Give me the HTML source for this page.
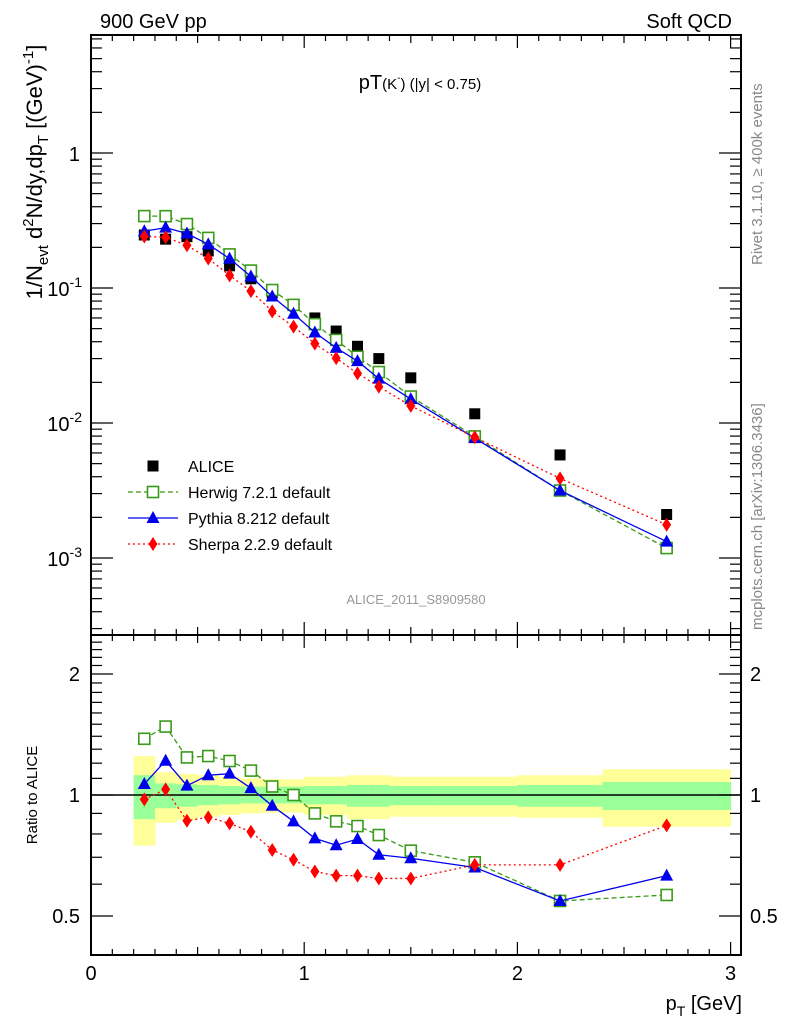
<!DOCTYPE html>
<html><head><meta charset="utf-8">
<style>
html,body{margin:0;padding:0;background:#fff;}
svg{display:block;font-family:"Liberation Sans",sans-serif;}
</style></head>
<body>
<svg id="chart" width="786" height="1024" viewBox="0 0 786 1024" xmlns="http://www.w3.org/2000/svg">
<text x="100" y="28" font-size="20">900 GeV pp</text>
<text x="732" y="28" font-size="20" text-anchor="end">Soft QCD</text>
<text x="420" y="89" font-size="20" text-anchor="middle">pT<tspan font-size="15">(K</tspan><tspan font-size="10" dy="-8">-</tspan><tspan font-size="15" dy="8">) (|y| &lt; 0.75)</tspan></text>
<text transform="translate(762,265) rotate(-90)" font-size="15" fill="#888">Rivet 3.1.10, ≥ 400k events</text>
<text transform="translate(762,630) rotate(-90)" font-size="15" fill="#888">mcplots.cern.ch [arXiv:1306.3436]</text>
<text x="416" y="604" font-size="13" fill="#999" text-anchor="middle">ALICE_2011_S8909580</text>
<text transform="translate(42,172) rotate(-90)" font-size="22" text-anchor="middle">1/N<tspan font-size="15" dy="6">evt</tspan><tspan dy="-6"> d</tspan><tspan font-size="15" dy="-9">2</tspan><tspan dy="9">N/dy,dp</tspan><tspan font-size="15" dy="6">T</tspan><tspan dy="-6"> [(GeV)</tspan><tspan font-size="15" dy="-9">-1</tspan><tspan dy="9">]</tspan></text>
<text transform="translate(37,795) rotate(-90)" font-size="15" text-anchor="middle">Ratio to ALICE</text>
<text x="742" y="1010" font-size="20" text-anchor="end">p<tspan font-size="14" dy="6">T</tspan><tspan dy="-6"> [GeV]</tspan></text>
<g id="g"></g>
</svg>
<script>
const xs=[0.25,0.35,0.45,0.55,0.65,0.75,0.85,0.95,1.05,1.15,1.25,1.35,1.5,1.8,2.2,2.7];
const binLo=[0.2,0.3,0.4,0.5,0.6,0.7,0.8,0.9,1.0,1.1,1.2,1.3,1.4,1.6,2.0,2.4];
const binHi=[0.3,0.4,0.5,0.6,0.7,0.8,0.9,1.0,1.1,1.2,1.3,1.4,1.6,2.0,2.4,3.0];
const alice=[0.247,0.23,0.24,0.188,0.146,0.117,0.092,0.075,0.06,0.048,0.037,0.03,0.0216,0.0117,0.0058,0.0021];
const herwigR=[1.38,1.48,1.24,1.25,1.215,1.15,1.05,1.0,0.90,0.86,0.837,0.795,0.727,0.68,0.545,0.564];
const pythiaR=[1.065,1.217,1.055,1.12,1.13,1.04,0.94,0.86,0.78,0.75,0.777,0.71,0.696,0.66,0.545,0.63];
const sherpaR=[0.975,1.033,0.863,0.88,0.85,0.81,0.73,0.69,0.645,0.63,0.63,0.62,0.62,0.67,0.67,0.84];
const yelUp=[1.25,1.14,1.128,1.12,1.11,1.10,1.094,1.094,1.11,1.11,1.12,1.12,1.11,1.11,1.12,1.159];
const yelDn=[0.748,0.853,0.867,0.883,0.892,0.90,0.904,0.904,0.892,0.892,0.871,0.871,0.883,0.883,0.878,0.834];
const grnUp=[1.12,1.069,1.063,1.059,1.053,1.049,1.049,1.049,1.053,1.053,1.059,1.059,1.053,1.053,1.059,1.077];
const grnDn=[0.871,0.927,0.935,0.943,0.948,0.953,0.953,0.953,0.948,0.948,0.935,0.935,0.943,0.943,0.935,0.918];
const xTicks=[0,1,2,3];
const mainTicks=[1,0.1,0.01,0.001];
const mainTickLabels=["1","10","10","10"];
const mainTickExp=["","-1","-2","-3"];
const ratioTicks=[0.5,1,2];

const NS="http://www.w3.org/2000/svg";
const g=document.getElementById('g');
const X=v=>91+213.2*v;
const Ym=v=>153-135*Math.log10(v);
const Yr=v=>795-121*Math.log2(v);
const L=91,R=741,T1=35,B1=635,T2=635,B2=955;
function el(tag,attrs,parent){const e=document.createElementNS(NS,tag);for(const k in attrs)e.setAttribute(k,attrs[k]);(parent||g).appendChild(e);return e;}

const bands=el('g',{});


for(let i=0;i<binLo.length;i++){
  const y=el('rect',{x:X(binLo[i]),y:Yr(yelUp[i]),width:X(binHi[i])-X(binLo[i])+0.5,height:Yr(yelDn[i])-Yr(yelUp[i]),fill:'#ffff99'},bands);
  
  
  const gr=el('rect',{x:X(binLo[i]),y:Yr(grnUp[i]),width:X(binHi[i])-X(binLo[i])+0.5,height:Yr(grnDn[i])-Yr(grnUp[i]),fill:'#99ff99'},bands);
  
  
}
const one=el('line',{x1:L,x2:R,y1:Yr(1),y2:Yr(1),stroke:'#000','stroke-width':1.5});



const f1=el('rect',{x:L,y:T1,width:R-L,height:B1-T1,fill:'none',stroke:'#000','stroke-width':2});


const f2=el('rect',{x:L,y:T2,width:R-L,height:B2-T2,fill:'none',stroke:'#000','stroke-width':2});



const tk=el('g',{stroke:'#000','stroke-width':1.2});


for(let i=0;i<=30;i++){
  const v=i/10,x=X(v);if(x>R)break;
  const len=i%10==0?13:(i%5==0?8:6);
  [[T1,1],[B1,-1],[T2,1],[B2,-1]].forEach(([y0,d])=>el('line',{x1:x,x2:x,y1:y0,y2:y0+d*len},tk));
}
xTicks.forEach(v=>{const t=el('text',{x:X(v),y:980,'font-size':20,'text-anchor':'middle'});t.textContent=v;});
for(let e=-4;e<=0;e++){for(let m=1;m<=9;m++){const v=m*Math.pow(10,e);const y=Ym(v);if(y<T1||y>B1)continue;const len=m==1?22:11;el('line',{x1:L,x2:L+len,y1:y,y2:y},tk);el('line',{x1:R,x2:R-len,y1:y,y2:y},tk);}}
mainTicks.forEach((v,i)=>{const t=el('text',{x:mainTickExp[i]?62:80,y:Ym(v)+8,'font-size':20,'text-anchor':'end'});t.textContent=mainTickLabels[i];if(mainTickExp[i]){const s=el('tspan',{'font-size':14,dy:-9},t);s.textContent=mainTickExp[i];t.setAttribute('x',82);}});
const rt=[0.4,0.5,0.6,0.7,0.8,0.9,1.0,1.1,1.2,1.3,1.4,1.5,1.6,1.7,1.8,1.9,2.0,2.1,2.2,2.3,2.4,2.5];
rt.forEach(v=>{const y=Yr(v);if(y<T2||y>B2)return;const len=(v==0.5||v==1||v==2)?22:11;el('line',{x1:L,x2:L+len,y1:y,y2:y},tk);el('line',{x1:R,x2:R-len,y1:y,y2:y},tk);});
ratioTicks.forEach(v=>{[[80,'end'],[750,'start']].forEach(([x,a])=>{const t=el('text',{x:x,y:Yr(v)+7,'font-size':20,'text-anchor':a});t.textContent=v;});});

function marker(type,x,y,parent){
  if(type=='sq') return el('rect',{x:x-5.5,y:y-5.5,width:11,height:11,fill:'#fff',stroke:'#3a9a1a','stroke-width':1.6},parent);
  if(type=='blk') return el('rect',{x:x-5.5,y:y-5.5,width:11,height:11,fill:'#000'},parent);
  if(type=='tri') return el('polygon',{points:`${x},${y-7} ${x-6.5},${y+5} ${x+6.5},${y+5}`,fill:'#0000ee'},parent);
  return el('polygon',{points:`${x},${y-7} ${x-4.5},${y} ${x},${y+7} ${x+4.5},${y}`,fill:'#ff0000'},parent);
}
const series=[
 {name:'herwig',r:herwigR,m:'sq',c:'#3a9a1a',dash:'5,3'},
 {name:'pythia',r:pythiaR,m:'tri',c:'#0000ee',dash:''},
 {name:'sherpa',r:sherpaR,m:'dia',c:'#ff0000',dash:'2,3'}];
const ag=el('g',{});


xs.forEach((x,i)=>{const p=marker('blk',X(x),Ym(alice[i]),ag);});
series.forEach(s=>{
  const gg=el('g',{});
  
  
  const pm=xs.map((x,i)=>X(x)+','+Ym(alice[i]*s.r[i])).join(' ');
  const pr=xs.map((x,i)=>X(x)+','+Yr(s.r[i])).join(' ');
  el('polyline',{points:pm,fill:'none',stroke:s.c,'stroke-width':1.3,'stroke-dasharray':s.dash},gg);
  el('polyline',{points:pr,fill:'none',stroke:s.c,'stroke-width':1.3,'stroke-dasharray':s.dash},gg);
  xs.forEach((x,i)=>{
    const a=marker(s.m,X(x),Ym(alice[i]*s.r[i]),gg);
    const b=marker(s.m,X(x),Yr(s.r[i]),gg);
  });
});
const lg=el('g',{});


const legItems=[['blk','ALICE','',''],['sq','Herwig 7.2.1 default','#3a9a1a','5,3'],['tri','Pythia 8.212 default','#0000ee',''],['dia','Sherpa 2.2.9 default','#ff0000','2,3']];
legItems.forEach((it,i)=>{
  const y=466+26*i;
  if(it[2]) el('line',{x1:128,x2:178,y1:y,y2:y,stroke:it[2],'stroke-width':1.3,'stroke-dasharray':it[3]},lg);
  marker(it[0],153,y,lg);
  const t=el('text',{x:188,y:y+6,'font-size':16},lg);t.textContent=it[1];
  
  
});
</script>
</body></html>
